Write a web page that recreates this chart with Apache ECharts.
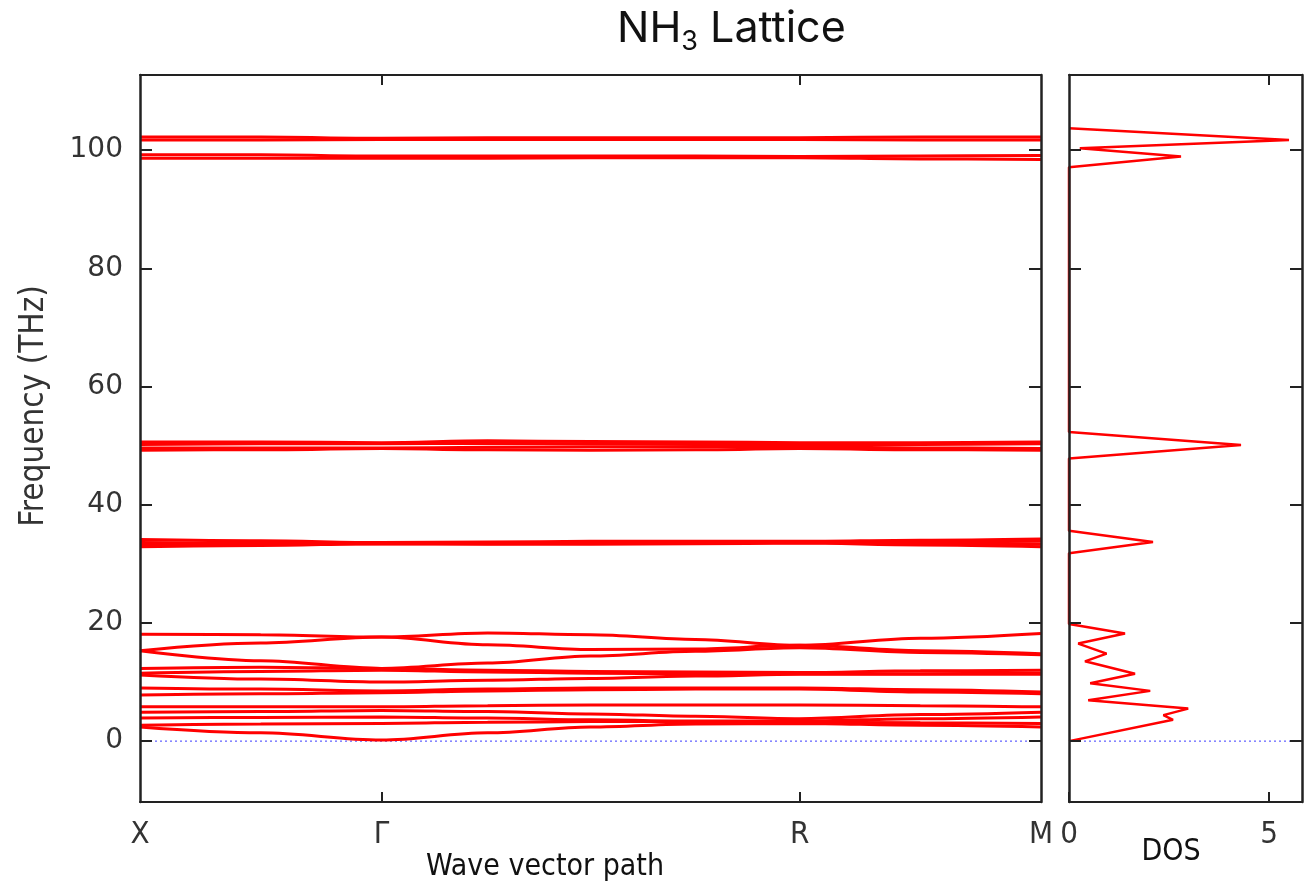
<!DOCTYPE html>
<html>
<head>
<meta charset="utf-8">
<script src="https://cdn.jsdelivr.net/npm/echarts@6/dist/echarts.min.js"></script>
<style>
html, body { margin: 0; padding: 0; background: #fff; }
#chart { width: 1307px; height: 885px; }
</style>
</head>
<body>
<div id="chart"></div>
<script>
// wave vector path positions (X, Γ, R, M plus a few points in between)
const kPath = [0, 0.25, 0.5, 0.72, 0.933, 1.15, 1.366, 1.616, 1.866];
const kTicks = [0, 0.5, 1.366, 1.866];
const kNames = ['X', 'Γ', 'R', 'M'];
const freqTicks = [0, 20, 40, 60, 80, 100];

// phonon bands (THz), one value per kPath point
const lowBands = [
    [18.1, 18.0, 17.6, 18.3, 18.0, 17.2, 16.2, 17.4, 18.2],
    [15.3, 16.6, 17.6, 16.3, 15.5, 15.6, 16.2, 15.3, 14.8],
    [15.3, 13.6, 12.3, 13.2, 14.4, 15.2, 15.8, 15.0, 14.6],
    [12.3, 12.5, 12.3, 12.0, 11.8, 11.7, 11.6, 11.9, 12.0],
    [11.5, 11.8, 12.0, 11.7, 11.5, 11.4, 11.4, 11.4, 11.5],
    [11.2, 10.5, 10.0, 10.3, 10.6, 11.0, 11.3, 11.3, 11.3],
    [9.0, 8.8, 8.5, 8.8, 9.0, 9.0, 9.0, 8.7, 8.3],
    [7.8, 8.0, 8.2, 8.5, 8.7, 8.8, 8.8, 8.3, 8.0],
    [5.8, 5.8, 5.8, 6.0, 6.1, 6.1, 6.1, 6.0, 5.8],
    [4.9, 5.0, 5.2, 5.0, 4.6, 4.2, 3.8, 4.5, 4.9],
    [3.9, 4.0, 4.1, 3.9, 3.6, 3.4, 3.4, 3.8, 4.1],
    [2.7, 2.9, 3.0, 3.2, 3.3, 3.3, 3.2, 3.1, 3.0],
    [2.4, 1.4, 0.2, 1.4, 2.4, 2.9, 3.0, 2.7, 2.4]
];
const band33 = [
    [34.1, 33.9, 33.6, 33.7, 33.8, 33.8, 33.8, 34.0, 34.2],
    [33.6, 33.5, 33.5, 33.6, 33.6, 33.7, 33.7, 33.7, 33.8],
    [33.2, 33.3, 33.4, 33.4, 33.5, 33.5, 33.6, 33.4, 33.3],
    [32.9, 33.1, 33.4, 33.3, 33.3, 33.4, 33.5, 33.2, 32.9]
];
const band50 = [
    [50.6, 50.6, 50.5, 50.8, 50.7, 50.6, 50.5, 50.5, 50.6],
    [50.2, 50.3, 50.3, 50.4, 50.3, 50.2, 50.2, 50.2, 50.3],
    [49.6, 49.6, 49.6, 49.7, 49.8, 49.8, 49.8, 49.6, 49.5],
    [49.2, 49.3, 49.5, 49.3, 49.2, 49.3, 49.5, 49.3, 49.2]
];
const band99 = [
    [99.2, 99.2, 99.0, 99.0, 99.0, 99.0, 98.9, 99.0, 99.1],
    [98.6, 98.6, 98.6, 98.6, 98.7, 98.7, 98.7, 98.5, 98.4]
];
const band102 = [
    [102.2, 102.2, 102.0, 102.1, 102.1, 102.1, 102.1, 102.2, 102.2],
    [101.7, 101.7, 101.8, 101.8, 101.8, 101.8, 101.8, 101.7, 101.7]
];

// density of states
const dosFreq = [0.0, 3.6, 4.4, 5.5, 6.9, 8.5, 9.8, 11.4, 13.5, 14.8, 16.5, 18.2, 19.8,
    31.8, 33.7, 35.6, 47.8, 50.1, 52.3, 97.1, 98.9, 100.3, 101.7, 103.7];
const dosValue = [0.0, 2.6, 2.36, 2.98, 0.48, 2.03, 0.53, 1.65, 0.4, 0.94, 0.23, 1.4, 0.0,
    0.0, 2.1, 0.0, 0.0, 4.3, 0.0, 0.0, 2.8, 0.27, 5.5, 0.0];
const dosTicks = [0, 5];

const kMax = 1.866, dosMax = 5.825, fMin = -10.3, fMax = 112.7;

let myChart = echarts.init(document.getElementById('chart'));

const axisColor = '#222';
const labelColor = '#333';
const narrowFont = '"DejaVu Sans Condensed", "Liberation Sans Narrow", "DejaVu Sans", sans-serif';

function xAx(grid, pos, max, tickVals, labelVals, formatter) {
    return {
        type: 'value', gridIndex: grid, position: pos, min: 0, max: max, z: 5,
        axisLine: { show: true, onZero: false, lineStyle: { color: axisColor, width: 2 } },
        axisTick: { show: true, inside: true, length: 10, customValues: tickVals, lineStyle: { color: axisColor, width: 2 } },
        axisLabel: labelVals ? {
            show: true, customValues: labelVals, margin: 17, color: labelColor,
            fontSize: 31, fontFamily: narrowFont, formatter: formatter
        } : { show: false },
        splitLine: { show: false }
    };
}
function yAx(grid, pos, withLabels) {
    return {
        type: 'value', gridIndex: grid, position: pos, min: fMin, max: fMax, z: 5,
        axisLine: { show: true, onZero: false, lineStyle: { color: axisColor, width: 2.5 } },
        axisTick: { show: true, inside: true, length: 12, customValues: freqTicks, lineStyle: { color: axisColor, width: 2 } },
        axisLabel: withLabels ? {
            show: true, customValues: freqTicks, margin: 17, color: labelColor,
            fontSize: 28, fontFamily: '"DejaVu Sans", sans-serif'
        } : { show: false },
        splitLine: { show: false }
    };
}

let series = [];
// zero-frequency reference lines
series.push({
    type: 'line', xAxisIndex: 0, yAxisIndex: 0, silent: true, showSymbol: false, z: 1,
    data: [[0, 0], [kMax, 0]],
    lineStyle: { color: '#3b3bff', width: 1, type: [2, 3] }
});
series.push({
    type: 'line', xAxisIndex: 2, yAxisIndex: 2, silent: true, showSymbol: false, z: 1,
    data: [[0, 0], [dosMax, 0]],
    lineStyle: { color: '#3b3bff', width: 1, type: [2, 3] }
});

[].concat(lowBands, band33, band50, band99, band102).forEach(function (b) {
    series.push({
        type: 'line', xAxisIndex: 0, yAxisIndex: 0, silent: true, showSymbol: false, z: 2,
        smooth: 0.35, smoothMonotone: 'x',
        data: kPath.map(function (k, i) { return [k, b[i]]; }),
        lineStyle: { color: '#ff0000', width: 3 }
    });
});

series.push({
    type: 'line', xAxisIndex: 2, yAxisIndex: 2, silent: true, showSymbol: false, z: 2,
    data: dosValue.map(function (d, i) { return [d, dosFreq[i]]; }),
    lineStyle: { color: '#ff0000', width: 2.5 }
});

let option = {
    animation: false,
    backgroundColor: '#fff',
    grid: [
        { left: 140, top: 75, width: 901, height: 727 },
        { left: 1069, top: 75, width: 233, height: 727 }
    ],
    xAxis: [
        xAx(0, 'bottom', kMax, [0.5, 1.366], kTicks, function (v) {
            let i = kTicks.findIndex(function (t) { return Math.abs(t - v) < 1e-6; });
            return i >= 0 ? kNames[i] : '';
        }),
        xAx(0, 'top', kMax, [0.5, 1.366], null),
        xAx(1, 'bottom', dosMax, dosTicks, dosTicks, function (v) { return String(Math.round(v)); }),
        xAx(1, 'top', dosMax, [5], null)
    ],
    yAxis: [
        yAx(0, 'left', true),
        yAx(0, 'right', false),
        yAx(1, 'left', false),
        yAx(1, 'right', false)
    ],
    graphic: [
        {
            type: 'text', left: 617, top: 4, silent: true,
            style: {
                text: '{a|NH}{b|3}{a| Lattice}',
                rich: {
                    a: { fontSize: 43, fontFamily: 'Inter, "Noto Sans", sans-serif', fill: '#111', lineHeight: 52 },
                    b: { fontSize: 27, fontFamily: 'Inter, "Noto Sans", sans-serif', fill: '#111', lineHeight: 52, padding: [24, 0, 0, 0] }
                }
            }
        },
        {
            type: 'text', x: 34, y: 406, rotation: Math.PI / 2, silent: true,
            style: {
                text: 'Frequency (THz)', align: 'center', verticalAlign: 'middle',
                fontSize: 33, fontFamily: narrowFont, fill: labelColor
            }
        },
        {
            type: 'text', x: 545, y: 867, silent: true,
            style: {
                text: 'Wave vector path', align: 'center', verticalAlign: 'middle',
                fontSize: 30, fontFamily: narrowFont, fill: '#111'
            }
        },
        {
            type: 'text', x: 1171, y: 852, silent: true,
            style: {
                text: 'DOS', align: 'center', verticalAlign: 'middle',
                fontSize: 30, fontFamily: narrowFont, fill: '#111'
            }
        }
    ],
    series: series
};
myChart.setOption(option);
</script>
</body>
</html>
